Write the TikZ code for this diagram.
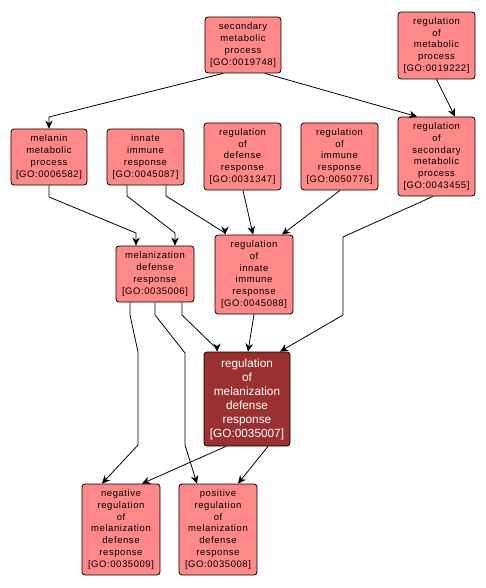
\documentclass[tikz,border=0pt]{standalone}
\usepackage{fontspec}
\newfontfamily\gosmall[LetterSpace=6]{Liberation Sans}
\newfontfamily\gobig{Liberation Sans}
\usetikzlibrary{arrows.meta}
\definecolor{golight}{RGB}{255,137,137}
\definecolor{godark}{RGB}{154,48,48}

\begin{document}
\begin{tikzpicture}[x=1pt,y=-1pt,
    term/.style={draw=black,line width=0.8pt,fill=golight,rounded corners=3pt,
      inner sep=0pt,align=center,font=\gosmall\fontsize{9.5}{11.7}\selectfont},
    focus/.style={term,fill=godark,text=white,font=\gobig\fontsize{11.8}{14}\selectfont},
    edge/.style={line width=0.8pt,-{Stealth[length=8pt,width=7.5pt,inset=2.5pt]}}]
  \useasboundingbox (0,0) rectangle (486,588);
  % terms, top row
  \node[term,minimum width=76pt,minimum height=56pt] (secmet) at (243,45)
    {secondary\\metabolic\\process\\{[}GO:0019748{]}};
  \node[term,minimum width=77pt,minimum height=67pt] (regmet) at (436.5,45.5)
    {regulation\\of\\metabolic\\process\\{[}GO:0019222{]}};
  % second row
  \node[term,minimum width=76pt,minimum height=56pt] (melmet) at (49,157)
    {melanin\\metabolic\\process\\{[}GO:0006582{]}};
  \node[term,minimum width=77pt,minimum height=56pt] (innate) at (145.5,157)
    {innate\\immune\\response\\{[}GO:0045087{]}};
  \node[term,minimum width=77pt,minimum height=67pt] (regdef) at (242.5,156.5)
    {regulation\\of\\defense\\response\\{[}GO:0031347{]}};
  \node[term,minimum width=77pt,minimum height=67pt] (regimm) at (339.5,156.5)
    {regulation\\of\\immune\\response\\{[}GO:0050776{]}};
  \node[term,minimum width=77pt,minimum height=79pt] (regsec) at (436.5,156.5)
    {regulation\\of\\secondary\\metabolic\\process\\{[}GO:0043455{]}};
  % third row
  \node[term,minimum width=78pt,minimum height=56pt] (meldef) at (155,274)
    {melanization\\defense\\response\\{[}GO:0035006{]}};
  \node[term,minimum width=78pt,minimum height=79pt] (reginn) at (254,274.5)
    {regulation\\of\\innate\\immune\\response\\{[}GO:0045088{]}};
  % the term itself
  \node[focus,minimum width=86pt,minimum height=94pt] (regmel) at (247,399)
    {regulation\\of\\melanization\\defense\\response\\{[}GO:0035007{]}};
  % bottom row
  \node[term,minimum width=78pt,minimum height=91pt] (negreg) at (121,529.5)
    {negative\\regulation\\of\\melanization\\defense\\response\\{[}GO:0035009{]}};
  \node[term,minimum width=78pt,minimum height=91pt] (posreg) at (218,529.5)
    {positive\\regulation\\of\\melanization\\defense\\response\\{[}GO:0035008{]}};

  % edges
  \draw[edge] ([xshift=-20]secmet.south) -- (49,117) -- (melmet.north);
  \draw[edge] ([xshift=22]secmet.south) -- ([xshift=-19.5]regsec.north);
  \draw[edge] (regmet.south) -- ([xshift=18.5]regsec.north);
  \draw[edge] (melmet.south) -- (49,197) -- (136,233) -- ([xshift=-19]meldef.north);
  \draw[edge] ([xshift=-18.5]innate.south) -- (127,196) -- (175,233) -- ([xshift=20]meldef.north);
  \draw[edge] ([xshift=20.5]innate.south) -- (166,196) -- (225,233) -- ([xshift=-29]reginn.north);
  \draw[edge] ([xshift=0.5]regdef.south) -- ([xshift=-1]reginn.north);
  \draw[edge] ([xshift=0.5]regimm.south) -- ([xshift=28]reginn.north);
  \draw[edge] ([xshift=-3.5]regsec.south) -- (343,237) -- (343,315) -- ([xshift=33]regmel.north);
  \draw[edge] ([xshift=27]meldef.south) -- (182,315) -- (217,349) -- ([xshift=-30]regmel.north);
  \draw[edge] (reginn.south) -- ([xshift=1]regmel.north);
  \draw[edge] ([xshift=-25]meldef.south) -- (130,315) -- (138,352) -- (138,445) -- ([xshift=-19]negreg.north);
  \draw[edge] (meldef.south) -- (155,315) -- (185,353) -- (185,445) -- ([xshift=-21]posreg.north);
  \draw[edge] ([xshift=-21]regmel.south) -- ([xshift=21]negreg.north);
  \draw[edge] ([xshift=21]regmel.south) -- ([xshift=20]posreg.north);
\end{tikzpicture}
\end{document}
